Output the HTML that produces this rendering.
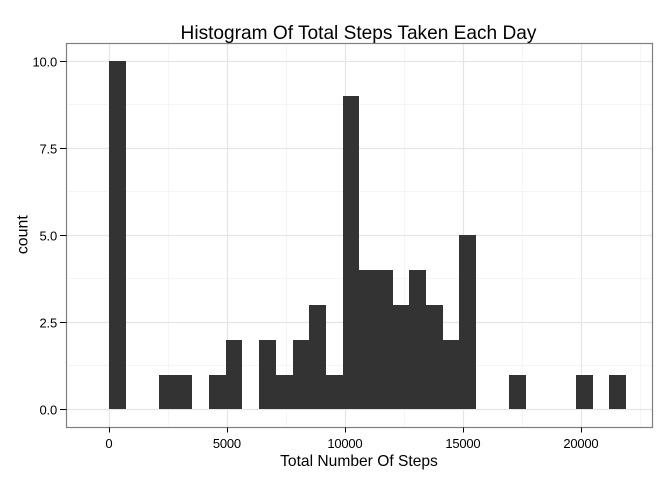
<!DOCTYPE html>
<html>
<head>
<meta charset="utf-8">
<title>Histogram Of Total Steps Taken Each Day</title>
<style>
  html, body { margin: 0; padding: 0; background: #fff; }
  svg { display: block; }
  text { font-family: "Liberation Sans", Arial, sans-serif; fill: #000; }
</style>
</head>
<body>
<svg id="chart" width="672" height="480" viewBox="0 0 672 480" xmlns="http://www.w3.org/2000/svg">
  <rect x="0" y="0" width="672" height="480" fill="#ffffff"></rect>
  <g id="grid"></g>
  <g id="bars"></g>
  <rect x="66.5" y="43.5" width="586" height="384" fill="none" stroke="#7f7f7f" stroke-width="1.2"></rect>
  <g id="ticks"></g>
  <text x="358.5" y="39" text-anchor="middle" font-size="19.1">Histogram Of Total Steps Taken Each Day</text>
  <text x="359" y="466" text-anchor="middle" font-size="15.6">Total Number Of Steps</text>
  <text transform="translate(27.5,234.7) rotate(-90)" text-anchor="middle" font-size="15.9">count</text>
</svg>
<script>
const binCounts = [10, 0, 0, 1, 1, 0, 1, 2, 0, 2, 1, 2, 3, 1, 9, 4, 4, 3, 4, 3, 2, 5, 0, 0, 1, 0, 0, 0, 1, 0, 1];
const binWidth = 706.47;
const xTickValues = [0, 5000, 10000, 15000, 20000];
const xTickLabels = ["0", "5000", "10000", "15000", "20000"];
const xMinorValues = [2500, 7500, 12500, 17500, 22500];
const yTickValues = [0, 2.5, 5, 7.5, 10];
const yTickLabels = ["0.0", "2.5", "5.0", "7.5", "10.0"];
const yMinorValues = [1.25, 3.75, 6.25, 8.75];

const NS = "http://www.w3.org/2000/svg";
const panel = { left: 66.5, right: 652.5, top: 43.5, bottom: 427.5 };
function xScale(v) { return 109.05 + v * 0.02361; }
function yScale(v) { return 409.4 - v * 34.83; }
function snap(p) { return Math.floor(p) + 0.5; }

const gridGroup = document.getElementById("grid");
const barsGroup = document.getElementById("bars");
const ticksGroup = document.getElementById("ticks");
const chartSvg = document.getElementById("chart");

function makeLine(parent, x1, y1, x2, y2, color, width) {
  const l = document.createElementNS(NS, "line");
  l.setAttribute("x1", x1);
  l.setAttribute("y1", y1);
  l.setAttribute("x2", x2);
  l.setAttribute("y2", y2);
  l.setAttribute("stroke", color);
  l.setAttribute("stroke-width", width);
  parent.appendChild(l);
  return l;
}

xMinorValues.forEach(function (v) {
  const p = snap(xScale(v));
  const l = makeLine(gridGroup, p, panel.top, p, panel.bottom, "#f5f5f5", 1);
  
  
});
yMinorValues.forEach(function (v) {
  const p = snap(yScale(v));
  const l = makeLine(gridGroup, panel.left, p, panel.right, p, "#f5f5f5", 1);
  
  
});
xTickValues.forEach(function (v) {
  const p = snap(xScale(v));
  const l = makeLine(gridGroup, p, panel.top, p, panel.bottom, "#e5e5e5", 1.2);
  
  
});
yTickValues.forEach(function (v) {
  const p = snap(yScale(v));
  const l = makeLine(gridGroup, panel.left, p, panel.right, p, "#e5e5e5", 1.2);
  
  
});

binCounts.forEach(function (count, i) {
  if (count <= 0) return;
  const x0 = Math.round(xScale(i * binWidth));
  const x1 = Math.round(xScale((i + 1) * binWidth));
  const yTop = Math.round(yScale(count));
  const yBase = Math.round(yScale(0));
  const r = document.createElementNS(NS, "rect");
  
  
  r.setAttribute("x", x0);
  r.setAttribute("y", yTop);
  r.setAttribute("width", x1 - x0);
  r.setAttribute("height", yBase - yTop);
  r.setAttribute("fill", "#333333");
  barsGroup.appendChild(r);
});

xTickValues.forEach(function (v, i) {
  const p = snap(xScale(v));
  const l = makeLine(ticksGroup, p, panel.bottom, p, panel.bottom + 5, "#000000", 1);
  
  
  const t = document.createElementNS(NS, "text");
  
  
  t.setAttribute("x", p - 0.6);
  t.setAttribute("y", 448);
  t.setAttribute("text-anchor", "middle");
  t.setAttribute("font-size", "13");
  t.setAttribute("letter-spacing", "-0.2");
  t.textContent = xTickLabels[i];
  chartSvg.appendChild(t);
});
yTickValues.forEach(function (v, i) {
  const p = snap(yScale(v));
  const l = makeLine(ticksGroup, panel.left - 6.5, p, panel.left, p, "#000000", 1);
  
  
  const t = document.createElementNS(NS, "text");
  
  
  t.setAttribute("x", 57);
  t.setAttribute("y", p + 5);
  t.setAttribute("text-anchor", "end");
  t.setAttribute("font-size", "13");
  t.setAttribute("letter-spacing", "-0.2");
  t.textContent = yTickLabels[i];
  chartSvg.appendChild(t);
});
</script>
</body>
</html>
